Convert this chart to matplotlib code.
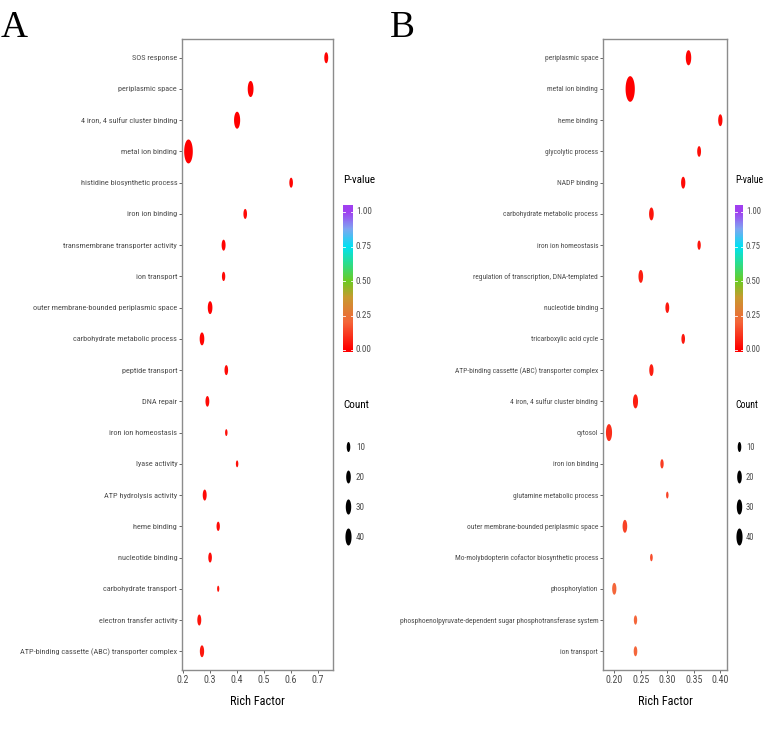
import numpy as np
import matplotlib
matplotlib.use('Agg')
import matplotlib.pyplot as plt
from matplotlib.path import Path
from matplotlib.colors import LinearSegmentedColormap

# ---------------- data ----------------
terms_a = ["SOS response", "periplasmic space", "4 iron, 4 sulfur cluster binding",
           "metal ion binding", "histidine biosynthetic process", "iron ion binding",
           "transmembrane transporter activity", "ion transport",
           "outer membrane-bounded periplasmic space", "carbohydrate metabolic process",
           "peptide transport", "DNA repair", "iron ion homeostasis", "lyase activity",
           "ATP hydrolysis activity", "heme binding", "nucleotide binding",
           "carbohydrate transport", "electron transfer activity",
           "ATP-binding cassette (ABC) transporter complex"]
rich_a = [0.73, 0.45, 0.40, 0.22, 0.60, 0.43, 0.35, 0.35, 0.30, 0.27,
          0.36, 0.29, 0.36, 0.40, 0.28, 0.33, 0.30, 0.33, 0.26, 0.27]
count_a = [13, 35, 40, 90, 10, 10, 13, 8, 20, 20,
           10, 12, 3, 3, 13, 8, 10, 2, 13, 16]
pval_a = [0.01, 0.001, 0.001, 0.0, 0.01, 0.02, 0.01, 0.02, 0.005, 0.01,
          0.02, 0.02, 0.03, 0.03, 0.02, 0.02, 0.02, 0.04, 0.04, 0.05]

terms_b = ["periplasmic space", "metal ion binding", "heme binding", "glycolytic process",
           "NADP binding", "carbohydrate metabolic process", "iron ion homeostasis",
           "regulation of transcription, DNA-templated", "nucleotide binding",
           "tricarboxylic acid cycle", "ATP-binding cassette (ABC) transporter complex",
           "4 iron, 4 sulfur cluster binding", "cytosol", "iron ion binding",
           "glutamine metabolic process", "outer membrane-bounded periplasmic space",
           "Mo-molybdopterin cofactor biosynthetic process", "phosphorylation",
           "phosphoenolpyruvate-dependent sugar phosphotransferase system", "ion transport"]
rich_b = [0.34, 0.23, 0.40, 0.36, 0.33, 0.27, 0.36, 0.25, 0.30, 0.33,
          0.27, 0.24, 0.19, 0.29, 0.30, 0.22, 0.27, 0.20, 0.24, 0.24]
count_b = [30, 105, 16, 12, 16, 20, 8, 20, 12, 10,
           16, 25, 40, 8, 3, 20, 4, 16, 8, 10]
pval_b = [0.01, 0.0, 0.02, 0.03, 0.02, 0.04, 0.04, 0.06, 0.05, 0.05,
          0.06, 0.06, 0.09, 0.12, 0.13, 0.13, 0.15, 0.2, 0.2, 0.2]

xticks_a = [0.2, 0.3, 0.4, 0.5, 0.6, 0.7]
xticks_b = [0.20, 0.25, 0.30, 0.35, 0.40]
pval_ticks = [0.0, 0.25, 0.5, 0.75, 1.0]
count_breaks = [10, 20, 30, 40]

# ---------------- style ----------------
plt.rcParams['font.family'] = ['Roboto Condensed', 'Liberation Sans Narrow',
                               'Open Sans Condensed', 'DejaVu Sans']
plt.rcParams['font.stretch'] = 'condensed'
W, H = 767, 732
fig = plt.figure(figsize=(W / 100, H / 100), dpi=100)

cmap = LinearSegmentedColormap.from_list('pv', [
    (0.0, '#FF0000'), (0.2, '#F4663A'), (0.38, '#C89A30'), (0.5, '#6CCB22'),
    (0.62, '#2EDD88'), (0.75, '#00E2F2'), (0.88, '#7FA6F2'), (1.0, '#A040F0')])

theta = np.linspace(0, 2 * np.pi, 64)
ell = Path(np.column_stack([0.36 * np.cos(theta), np.sin(theta)]), closed=True)


def msize(c):
    c = np.asarray(c, dtype=float)
    h_px = 10 + 2.21 * (np.sqrt(c) - np.sqrt(10))
    return (h_px * 0.72) ** 2


GRAY = '#4D4D4D'
FRAME = '#8C8C8C'


def panel(left_px, right_px, terms, rich, count, pval, xlim, xticks, fmt, lbl):
    ax = fig.add_axes([left_px / W, 1 - 670 / H, (right_px - left_px) / W, (670 - 39) / H])
    n = len(terms)
    ypos = np.arange(n)[::-1]
    ax.scatter(rich, ypos, s=msize(count), c=pval, cmap=cmap, vmin=0, vmax=1,
               marker=ell, linewidths=0, zorder=3)
    ax.set_ylim(-0.6, n - 0.4)
    ax.set_xlim(*xlim)
    ax.set_yticks(ypos)
    ax.set_yticklabels(terms, fontsize=lbl, color=GRAY)
    ax.set_xticks(xticks)
    ax.set_xticklabels([fmt % v for v in xticks], fontsize=7.2, color=GRAY)
    ax.tick_params(axis='both', length=2, width=0.6, color=GRAY, pad=1.5)
    for sp in ax.spines.values():
        sp.set_color(FRAME)
        sp.set_linewidth(1.0)
    ax.set_xlabel('Rich Factor', fontsize=8.8, color='black', labelpad=7)
    return ax


panel(182, 333, terms_a, rich_a, count_a, pval_a, (0.196, 0.755), xticks_a, '%.1f', 5.95)
panel(603, 727, terms_b, rich_b, count_b, pval_b, (0.1787, 0.4126), xticks_b, '%.2f', 5.4)

# overlay in pixel coordinates for legends and panel letters
ov = fig.add_axes([0, 0, 1, 1])
ov.set_xlim(0, W)
ov.set_ylim(H, 0)
ov.axis('off')

grad = np.linspace(-0.015, 1.05, 256).reshape(-1, 1)


def legend(x0, bar_w, tsize, lsize):
    ov.text(x0, 180, 'P-value', fontsize=tsize, color='black', va='center', ha='left')
    ov.imshow(grad, cmap=cmap, vmin=0, vmax=1, aspect='auto', origin='lower',
              extent=(x0, x0 + bar_w, 352, 205), interpolation='bilinear')
    for v in pval_ticks:
        y = 350 - v * 138
        ov.plot([x0, x0 + 2], [y, y], color='white', lw=0.6)
        ov.plot([x0 + bar_w - 2, x0 + bar_w], [y, y], color='white', lw=0.6)
        ov.text(x0 + bar_w + 3, y, '%.2f' % v, fontsize=lsize, color=GRAY,
                va='center', ha='left')
    ov.text(x0, 405, 'Count', fontsize=tsize, color='black', va='center', ha='left')
    ys = 447 + 30 * np.arange(len(count_breaks))
    ov.scatter([x0 + bar_w / 2 + 0.5] * len(count_breaks), ys, s=msize(count_breaks),
               marker=ell, color='black', linewidths=0)
    for c, y in zip(count_breaks, ys):
        ov.text(x0 + bar_w + 3, y, str(c), fontsize=lsize, color=GRAY, va='center', ha='left')


legend(343, 10, 8, 6.6)
legend(735, 8, 7, 6.2)
ov.set_xlim(0, W)
ov.set_ylim(H, 0)

ov.text(1, 28, 'A', fontsize=27, family=['Liberation Serif', 'DejaVu Serif'],
        ha='left', va='center', color='black')
ov.text(390, 28, 'B', fontsize=27, family=['Liberation Serif', 'DejaVu Serif'],
        ha='left', va='center', color='black')

fig.savefig('out.png', dpi=100)
